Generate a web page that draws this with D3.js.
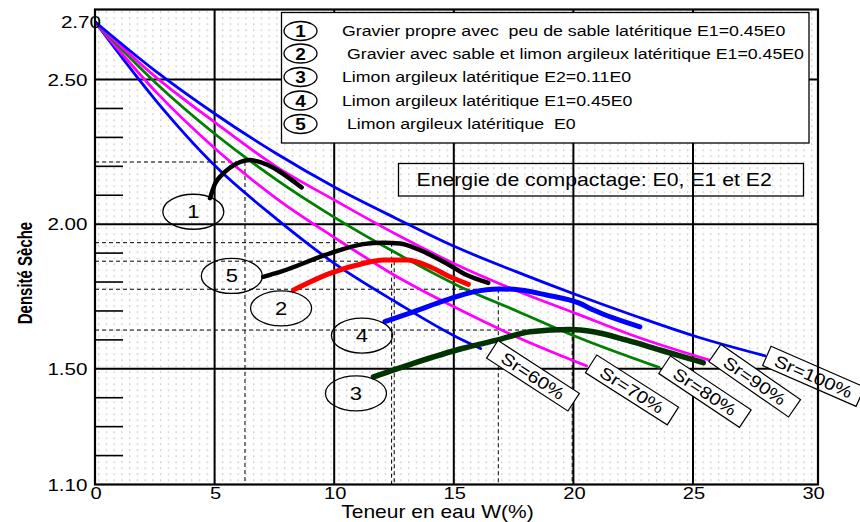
<!DOCTYPE html>
<html><head><meta charset="utf-8">
<script src="https://cdn.jsdelivr.net/npm/d3@7"></script>
<style>
html,body{margin:0;padding:0;background:#fff;}
svg{display:block;font-family:"Liberation Sans",Arial,Helvetica,sans-serif;}
</style>
</head><body>
<svg id="c" width="860" height="522"></svg>
<script>
// ---------- data ----------
const xTicks = [0, 5, 10, 15, 20, 25, 30];
const yMajor = [2.50, 2.00, 1.50];
const yTickLabels = ["2.70", "2.50", "2.00", "1.50", "1.10"];
const yTickValues = [2.70, 2.50, 2.00, 1.50, 1.10];
const yMinor = [2.4, 2.3, 2.2, 2.1, 1.9, 1.8, 1.7, 1.6, 1.4, 1.3, 1.2];

const srLabels = ["Sr=60%", "Sr=70%", "Sr=80%", "Sr=90%", "Sr=100%"];
const sr60  = [[0,2.70],[2.52,2.43],[5.04,2.20],[7.56,2.02],[10.08,1.86],[12.59,1.73],[15.11,1.61],[16.12,1.57]];
const sr70  = [[0,2.70],[2.52,2.46],[5.04,2.26],[7.56,2.09],[10.08,1.95],[12.59,1.82],[15.11,1.71],[17.63,1.61],[20.55,1.51]];
const sr80  = [[0,2.70],[2.52,2.49],[5.04,2.31],[7.56,2.155],[10.08,2.02],[12.59,1.90],[15.11,1.79],[17.63,1.70],[20.15,1.61],[23.58,1.505]];
const sr90  = [[0,2.70],[2.52,2.51],[5.04,2.35],[7.56,2.20],[10.08,2.08],[12.59,1.965],[15.11,1.86],[17.63,1.77],[20.15,1.69],[22.67,1.61],[25.69,1.53]];
const sr100 = [[0,2.70],[2.52,2.53],[5.04,2.38],[7.56,2.245],[10.08,2.125],[12.59,2.02],[15.11,1.92],[17.63,1.835],[20.15,1.755],[22.67,1.68],[25.19,1.61],[28.01,1.545]];

const curve1 = [[4.81,2.09],[5.02,2.14],[5.30,2.17],[5.64,2.195],[6.07,2.215],[6.48,2.222],[6.76,2.218],[8.64,2.127]];
const curve5 = [[7.03,1.818],[7.74,1.835],[9.82,1.899],[11.21,1.931],[12.05,1.936],[12.75,1.933],[13.59,1.910],[14.70,1.864],[15.54,1.824],[16.44,1.797]];
const curve2 = [[8.29,1.772],[9.82,1.830],[11.21,1.864],[12.05,1.876],[13.03,1.876],[14.00,1.853],[14.84,1.818],[15.61,1.792]];
const curve4 = [[12.12,1.663],[13.31,1.697],[14.70,1.738],[15.82,1.766],[16.86,1.776],[17.49,1.775],[18.88,1.755],[20.27,1.726],[20.84,1.703],[22.78,1.645]];
const curve3 = [[11.64,1.472],[13.31,1.519],[15.39,1.571],[16.80,1.599],[18.19,1.628],[19.86,1.636],[20.84,1.628],[22.23,1.599],[23.62,1.565],[25.43,1.521]];

// optimum points (dashed guides)
const peakW = [6.27, 12.40, 12.51, 16.86, 19.95];
const peakD = [2.215, 1.936, 1.872, 1.775, 1.634];

const legendNums = ["1", "2", "3", "4", "5"];
const legendTexts = [
  "Gravier propre avec  peu de sable latéritique E1=0.45E0",
  " Gravier avec sable et limon argileux latéritique E1=0.45E0",
  "Limon argileux latéritique E2=0.11E0",
  "Limon argileux latéritique E1=0.45E0",
  " Limon argileux latéritique  E0"
];
const curveNums = ["1", "5", "2", "4", "3"];
const energyText = "Energie de compactage: E0, E1 et E2";
const xTitle = "Teneur en eau W(%)";
const yTitle = "Densité Sèche";

// ---------- layout ----------
const svg = d3.select("#c");
const x = d3.scaleLinear().domain([0, 30]).range([95, 812.6]);
const y = d3.scaleLinear().domain([1.1, 2.7]).range([484.5, 21.7]);
const plotTop = 9.5, plotBottom = y(1.1), plotLeft = x(0), plotRight = 818;
const SX = 1.22; // horizontal text stretch of the original

function stext(parent, px, py, txt, size, anchor, opts = {}) {
  const t = parent.append("text")
    .attr("transform", `translate(${px},${py}) scale(${opts.sx || SX},1)`)
    .attr("text-anchor", anchor || "start")
    .attr("font-size", size)
    .attr("fill", "#000")
    .style("white-space", "pre")
    .text(txt);
  if (opts.weight) t.attr("font-weight", opts.weight);
  return t;
}

// background dotted pattern
const defs = svg.append("defs");
const pat = defs.append("pattern").attr("id", "dots").attr("patternUnits", "userSpaceOnUse")
  .attr("width", 7.75).attr("height", 6).attr("x", plotLeft + 3).attr("y", plotTop + 2);
pat.append("rect").attr("width", 1.3).attr("height", 1.3).attr("fill", "#b9b9b9");
defs.append("clipPath").attr("id", "plotclip").append("rect")
  .attr("x", plotLeft).attr("y", plotTop).attr("width", plotRight - plotLeft).attr("height", plotBottom - plotTop);

svg.append("rect").attr("x", plotLeft).attr("y", plotTop)
  .attr("width", plotRight - plotLeft).attr("height", plotBottom - plotTop)
  .attr("fill", "url(#dots)");

const grid = svg.append("g");
grid.selectAll(".vx").data(xTicks.slice(1, -1)).join("line")
  .attr("x1", d => x(d)).attr("x2", d => x(d)).attr("y1", plotTop).attr("y2", plotBottom)
  .attr("stroke", "#000").attr("stroke-width", 2);
grid.selectAll(".hy").data(yMajor).join("line")
  .attr("x1", plotLeft).attr("x2", plotRight).attr("y1", d => y(d)).attr("y2", d => y(d))
  .attr("stroke", "#000").attr("stroke-width", 2);
grid.selectAll(".mt").data(yMinor).join("line")
  .attr("x1", plotLeft).attr("x2", plotLeft + 28).attr("y1", d => y(d)).attr("y2", d => y(d))
  .attr("stroke", "#000").attr("stroke-width", 1.6);

// dashed guides to optimum
const dash = svg.append("g").attr("stroke", "#000").attr("stroke-width", 1).attr("stroke-dasharray", "4,3");
peakW.forEach((w, i) => {
  dash.append("line").attr("x1", plotLeft).attr("x2", x(w)).attr("y1", y(peakD[i])).attr("y2", y(peakD[i]));
  dash.append("line").attr("x1", x(w)).attr("x2", x(w)).attr("y1", y(peakD[i])).attr("y2", plotBottom);
});

const line = d3.line().x(d => x(d[0])).y(d => y(d[1])).curve(d3.curveMonotoneX);
const lines = svg.append("g").attr("clip-path", "url(#plotclip)").attr("fill", "none")
  .attr("stroke-linecap", "round").attr("stroke-linejoin", "round");

const srSeries = [sr60, sr70, sr80, sr90, sr100];
const srColors = ["#0000ff", "#ff00ff", "#008000", "#ff00ff", "#0000ff"];
srSeries.forEach((s, i) => {
  lines.append("path").attr("d", line(s)).attr("stroke", srColors[i]).attr("stroke-width", 2.8);
});

const comp = [curve1, curve5, curve2, curve4, curve3];
const compColors = ["#000000", "#000000", "#ff0000", "#0000ff", "#003300"];
const compWidths = [4.5, 4.5, 5, 5, 5.5];
comp.forEach((s, i) => {
  lines.append("path").attr("d", line(s)).attr("stroke", compColors[i]).attr("stroke-width", compWidths[i]);
});

// curve number ellipses (anchor in data coordinates)
const curveLabelW = [4.11, 5.72, 7.78, 11.16, 10.91];
const curveLabelD = [2.043, 1.821, 1.709, 1.615, 1.415];
const ann = svg.append("g");
curveNums.forEach((n, i) => {
  const cx = x(curveLabelW[i]), cy = y(curveLabelD[i]);
  ann.append("ellipse").attr("cx", cx).attr("cy", cy).attr("rx", 30.5).attr("ry", 17.5)
    .attr("fill", "none").attr("stroke", "#000").attr("stroke-width", 1.3);
  stext(ann, cx, cy + 6.5, n, 18, "middle");
});

// Sr boxes
const srBoxW = [18.31, 22.45, 25.50, 27.58, 30.04];
const srBoxD = [1.476, 1.427, 1.421, 1.459, 1.474];
const srBoxAngle = [33, 32.5, 33.7, 34.8, 23.6];
srLabels.forEach((lab, i) => {
  const g = svg.append("g").attr("transform", `translate(${x(srBoxW[i])},${y(srBoxD[i])}) rotate(${srBoxAngle[i]})`);
  const bw = i === 4 ? 102 : 97;
  g.append("rect").attr("x", -bw / 2).attr("y", -10.5).attr("width", bw).attr("height", 21)
    .attr("fill", "#fff").attr("stroke", "#000").attr("stroke-width", 1.2);
  stext(g, 0, 6.2, lab, 17, "middle", { sx: 1.18 });
});

// Energy box (transparent)
svg.append("rect").attr("x", 398.5).attr("y", 163.5).attr("width", 405).attr("height", 32.5)
  .attr("fill", "none").attr("stroke", "#000").attr("stroke-width", 1.3);
stext(svg, 416.5, 186, energyText, 17.7, "start", { sx: 1.2 });

// Legend
const leg = svg.append("g");
leg.append("rect").attr("x", 281.5).attr("y", 12.5).attr("width", 527.5).attr("height", 130.5)
  .attr("fill", "#fff").attr("stroke", "#000").attr("stroke-width", 1.3);
const legY = [31, 53.5, 77, 100.5, 124];
legendNums.forEach((n, i) => {
  leg.append("ellipse").attr("cx", 300.5).attr("cy", legY[i]).attr("rx", 16.5).attr("ry", 9.5)
    .attr("fill", "none").attr("stroke", "#000").attr("stroke-width", 1.3);
  stext(leg, 300.5, legY[i] + 6, n, 16.5, "middle", { weight: "bold", sx: 1.15 });
  stext(leg, 342, legY[i] + 5.4, legendTexts[i], 14.8, "start", { sx: 1.2 });
});

// Frame
svg.append("rect").attr("x", plotLeft).attr("y", plotTop)
  .attr("width", plotRight - plotLeft).attr("height", plotBottom - plotTop)
  .attr("fill", "none").attr("stroke", "#000").attr("stroke-width", 2.2);

// Axis labels
const ax = svg.append("g");
xTicks.forEach(t => stext(ax, x(t) + 1, 498.5, String(t), 16.5, "middle", { sx: 1.22 }));
yTickValues.forEach((v, i) => {
  const px = i === 0 ? 101 : 87.5;
  stext(ax, px, y(v) + 6, yTickLabels[i], 16.5, "end", { sx: 1.25 });
});
stext(ax, 437.5, 517.5, xTitle, 17.5, "middle", { sx: 1.2 });
ax.append("text").attr("transform", "translate(32,273) rotate(-90) scale(0.75,1)")
  .attr("text-anchor", "middle").attr("font-size", 20).attr("font-weight", "bold").text(yTitle);
</script>
</body></html>
